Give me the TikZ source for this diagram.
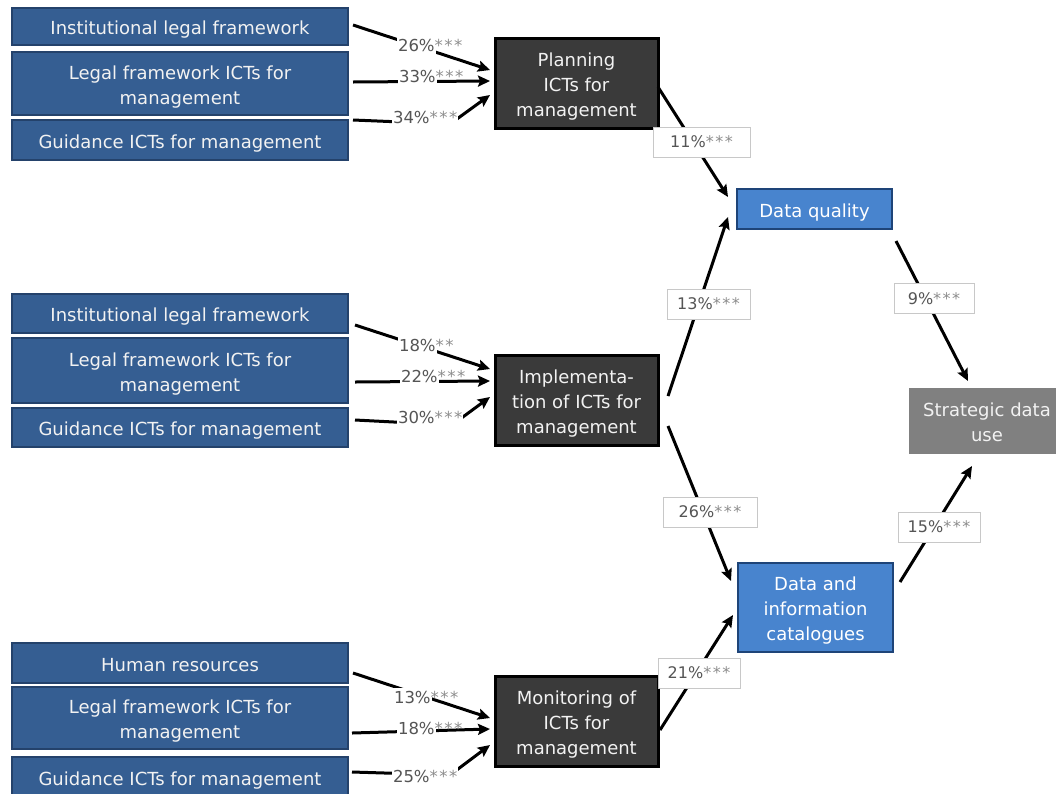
\documentclass[tikz,border=0pt]{standalone}
\usepackage{fontspec}
\setmainfont{DejaVu Sans}
\usetikzlibrary{arrows.meta}

\definecolor{srcfill}{HTML}{355E92}
\definecolor{srcedge}{HTML}{24426B}
\definecolor{stagefill}{HTML}{3A3A3A}
\definecolor{outfill}{HTML}{4884CE}
\definecolor{outedge}{HTML}{1E4478}
\definecolor{goalfill}{HTML}{808080}
\definecolor{boxtext}{HTML}{F2F2F2}
\definecolor{numgray}{HTML}{555555}
\definecolor{stargray}{HTML}{8C8C8C}
\definecolor{boxgray}{HTML}{C8C8C8}

% significance stars
\newcommand{\sthree}{\textcolor{stargray}{*\kern1.5pt*\kern1.5pt*}}
\newcommand{\stwo}{\textcolor{stargray}{*\kern1.5pt*}}
% strut that sets the vertical placement of box texts
\newcommand{\bs}{\rule[-4pt]{0pt}{24pt}}

\begin{document}
\begin{tikzpicture}[x=1pt,y=-1pt,
  every node/.style={font=\fontsize{18}{25}\selectfont, outer sep=0pt},
  srcbox/.style={draw=srcedge, line width=1.5pt, fill=srcfill, text=boxtext,
    align=center, minimum width=336pt, inner sep=0pt},
  stagebox/.style={draw=black, line width=3pt, fill=stagefill, text=boxtext,
    align=center, minimum width=163pt, minimum height=90pt, inner sep=0pt},
  outbox/.style={draw=outedge, line width=2.5pt, fill=outfill, text=white,
    align=center, minimum width=155pt, inner sep=0pt},
  goalbox/.style={fill=goalfill, text=boxtext, align=center,
    minimum width=156pt, minimum height=66pt, inner sep=0pt},
  arr/.style={line width=3pt, -{Stealth[length=12pt,width=11pt,inset=2pt]}},
  coef/.style={anchor=west, fill=white, inner xsep=1pt, inner ysep=3pt,
    text=numgray, font=\fontsize{16.5}{18}\selectfont},
  coefbent/.style={coef, inner ysep=5pt},
  coefbox/.style={draw=boxgray, line width=1pt, fill=white, text=numgray,
    minimum height=30pt, inner sep=0pt, font=\fontsize{16}{18}\selectfont},
]
\useasboundingbox (0,0) rectangle (1056,793);

% antecedents of planning
\node[srcbox, minimum height=37pt] (p1) at (180,26.5) {\bs Institutional legal framework};
\node[srcbox, minimum height=63pt] (p2) at (180,83.5) {\bs Legal framework ICTs for\\\bs management};
\node[srcbox, minimum height=40pt] (p3) at (180,140) {\bs Guidance ICTs for management};

% antecedents of implementation
\node[srcbox, minimum height=39pt] (i1) at (180,313.5) {\bs Institutional legal framework};
\node[srcbox, minimum height=65pt] (i2) at (180,370.5) {\bs Legal framework ICTs for\\\bs management};
\node[srcbox, minimum height=39pt] (i3) at (180,427.5) {\bs Guidance ICTs for management};

% antecedents of monitoring
\node[srcbox, minimum height=40pt] (m1) at (180,663) {\bs Human resources};
\node[srcbox, minimum height=62pt] (m2) at (180,718) {\bs Legal framework ICTs for\\\bs management};
\node[srcbox, minimum height=40pt] (m3) at (180,777) {\bs Guidance ICTs for management};

% ICT stages
\node[stagebox] (plan) at (576.5,83) {\bs Planning\\ICTs for\\\bs management};
\node[stagebox] (impl) at (576.5,400) {\bs Implementa-\\tion of ICTs for\\\bs management};
\node[stagebox] (mon) at (576.5,721) {\bs Monitoring of\\ICTs for\\\bs management};

% outcomes
\node[outbox, minimum height=40pt] (dq) at (814.5,209) {\bs Data quality};
\node[outbox, minimum height=89pt] (cat) at (815.5,607.5) {\bs Data and\\information\\\bs catalogues};
\node[goalbox] (sdu) at (987,421) {\bs Strategic data\\\bs use};

% paths into planning
\draw[arr] ([xshift=5pt,yshift=1.5pt]p1.east) -- ([xshift=-5pt,yshift=13pt]plan.west);
\draw[arr] ([xshift=5pt,yshift=1.5pt]p2.east) -- ([xshift=-5pt,yshift=2pt]plan.west);
\draw[arr] ([xshift=5pt]p3.north east) -- ++(97,4) -- ([xshift=-5pt,yshift=-12pt]plan.west);
\node[coef] (cp1) at (397,45) {26\%\rlap{\sthree}};
\node[coef] (cp2) at (398,76.5) {33\%\rlap{\sthree}};
\node[coefbent] (cp3) at (392,117.5) {34\%\sthree};

% paths into implementation
\draw[arr] ([xshift=7pt,yshift=-11.5pt]i1.east) -- ([xshift=-5pt,yshift=31pt]impl.west);
\draw[arr] ([xshift=7pt,yshift=-11.5pt]i2.east) -- ([xshift=-5pt,yshift=19pt]impl.west);
\draw[arr] ([xshift=7pt,yshift=7.5pt]i3.east) -- ++(97,5) -- ([xshift=-5pt,yshift=3pt]impl.west);
\node[coef] (ci1) at (398,345) {18\%\rlap{\stwo}};
\node[coef] (ci2) at (400,376) {22\%\rlap{\sthree}};
\node[coefbent] (ci3) at (397,417) {30\%\sthree};

% paths into monitoring
\draw[arr] ([xshift=5pt,yshift=-10pt]m1.east) -- ([xshift=-5pt,yshift=3pt]mon.west);
\draw[arr] ([xshift=4pt,yshift=-15pt]m2.east) -- ([xshift=-5pt,yshift=-8pt]mon.west);
\draw[arr] ([xshift=4pt,yshift=5pt]m3.east) -- ++(98,3) -- ([xshift=-5pt,yshift=-24pt]mon.west);
\node[coef] (cm1) at (393,697) {13\%\rlap{\sthree}};
\node[coef] (cm2) at (397,728.5) {18\%\rlap{\sthree}};
\node[coefbent] (cm3) at (392,776) {25\%\sthree};

% stage to outcome paths
\draw[arr] ([yshift=-4pt]plan.east) -- ([xshift=-9pt,yshift=12pt]dq.west);
\draw[arr] ([xshift=10pt,yshift=4pt]impl.east) -- ([xshift=-9pt,yshift=-8pt]dq.west);
\draw[arr] ([xshift=10pt,yshift=-26pt]impl.east) -- ([xshift=-7pt,yshift=-18pt]cat.north west);
\draw[arr] ([xshift=2pt,yshift=-9pt]mon.east) -- ([xshift=-5pt,yshift=-7.5pt]cat.west);
\draw[arr] ([xshift=4pt,yshift=-12pt]dq.south east) -- ([xshift=-19pt,yshift=7pt]sdu.north);
\draw[arr] ([xshift=7pt,yshift=-19pt]cat.north east) -- ([xshift=-15pt,yshift=-12pt]sdu.south);

\node[coefbox, minimum width=97pt] (c1) at (701.5,142) {11\%\sthree};
\node[coefbox, minimum width=83pt] (c2) at (708.5,304) {13\%\sthree};
\node[coefbox, minimum width=80pt] (c3) at (934,298.5) {9\%\sthree};
\node[coefbox, minimum width=94pt] (c4) at (710,512) {26\%\sthree};
\node[coefbox, minimum width=82pt] (c5) at (699,673) {21\%\sthree};
\node[coefbox, minimum width=82pt] (c6) at (939,527) {15\%\sthree};
\end{tikzpicture}
\end{document}
